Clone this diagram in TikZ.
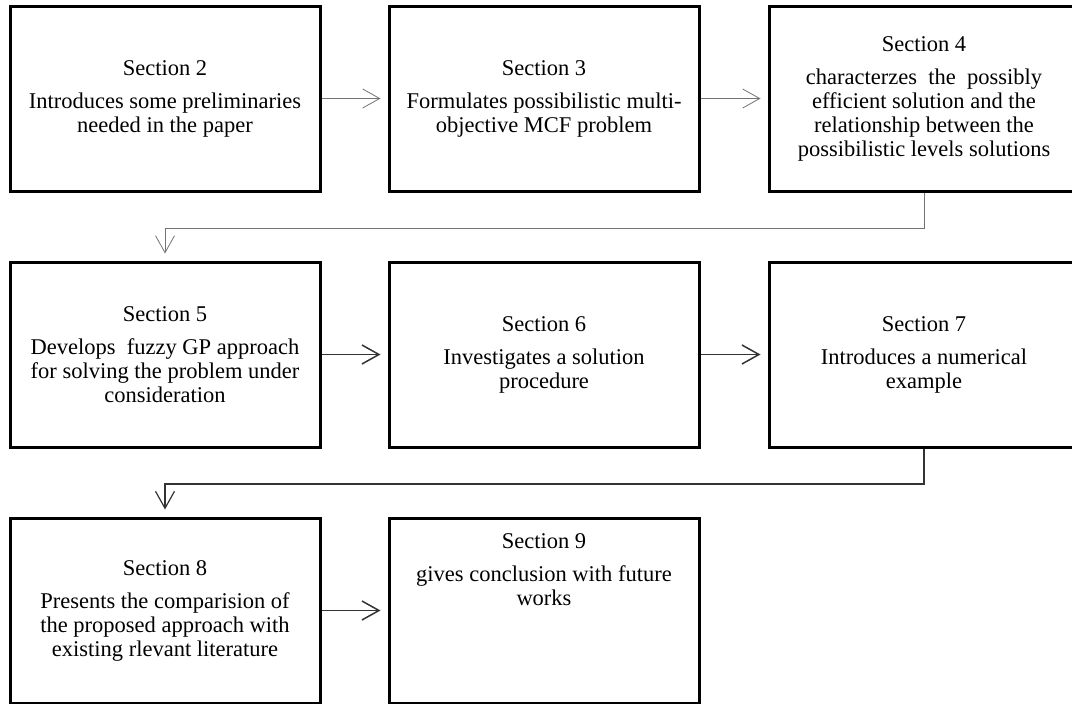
\documentclass[tikz,border=0pt]{standalone}
\usepackage{fontspec}
\setmainfont{Liberation Serif}
\usetikzlibrary{arrows.meta, positioning}

\begin{document}
\begin{tikzpicture}[x=1pt, y=1pt,
		secbox/.style={draw, line width=3pt, minimum width=310pt, minimum height=185pt,
			inner sep=0pt, align=center, font=\fontsize{22.5}{24}\selectfont},
		sectext/.style={inner sep=0pt, align=center, font=\fontsize{22.5}{24}\selectfont},
		>={Straight Barb[length=17pt, width=19pt]},
		thinarr/.style={->, draw=black!55, line width=0.8pt, shorten >=7pt},
		darkarr/.style={->, draw=black!80, line width=1.5pt, shorten >=7pt}]
		\useasboundingbox (0,0) rectangle (1072,-704);
		\draw (165,-98.5) node[secbox] (s2) {Section 2\\[9pt]Introduces some preliminaries\\needed in the paper}
		(544,-98.5) node[secbox] (s3) {Section 3\\[9pt]Formulates possibilistic multi-\\objective MCF problem}
		(924,-98.5) node[secbox] (s4) {Section 4\\[9pt]characterzes\ \ the\ \ possibly\\efficient solution and the\\relationship between the\\possibilistic levels solutions}
		(165,-354.5) node[secbox] (s5) {Section 5\\[9pt]Develops\ \ fuzzy GP approach\\for solving the problem under\\consideration}
		(544,-354.5) node[secbox] (s6) {Section 6\\[9pt]Investigates a solution\\procedure}
		(924,-354.5) node[secbox] (s7) {Section 7\\[9pt]Introduces a numerical\\example}
		(165,-610.5) node[secbox] (s8) {Section 8\\[9pt]Presents the comparision of\\the proposed approach with\\existing rlevant literature}
		(544,-610.5) node[secbox] (s9) {};
		\node[sectext, below=17pt of s9.north] (t9) {Section 9\\[9pt]gives conclusion with future\\works};

		\draw[thinarr] (s2) -- (s3);
		\draw[thinarr] (s3) -- (s4);
		\draw[thinarr] (s4.south) -- ++(0,-35.5) -| (s5.north);
		\draw[darkarr] (s5) -- (s6);
		\draw[darkarr] (s6) -- (s7);
		\draw[darkarr, line width=1.2pt] (s7.south) -- ++(0,-35.5) -| (s8.north);
		\draw[darkarr] (s8) -- (s9);
	\end{tikzpicture}
\end{document}
